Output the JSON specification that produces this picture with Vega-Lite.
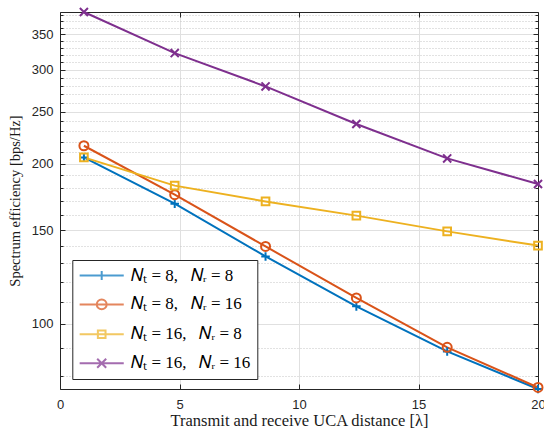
{
  "$schema": "https://vega.github.io/schema/vega-lite/v6.json",
  "width": 478,
  "height": 377,
  "autosize": "none",
  "padding": {"left": 60, "top": 12, "right": 6, "bottom": 45},
  "background": "white",
  "config": {
    "view": {"stroke": null},
    "font": "Liberation Sans",
    "axis": {
      "labelFont": "Liberation Sans",
      "labelFontSize": 13,
      "labelColor": "#262626",
      "titleFont": "Liberation Serif",
      "titleFontSize": 16.5,
      "titleFontWeight": "normal",
      "titleColor": "#1a1a1a",
      "domainColor": "#262626",
      "tickColor": "#262626",
      "domainWidth": 1,
      "tickWidth": 1,
      "gridColor": "#e0e0e0",
      "gridWidth": 1
    }
  },
  "data": {
    "values": [
      {"d": 1, "se": 205.4, "cfg": "Nt = 8,\u2002 Nr = 8"},
      {"d": 4.8, "se": 168.2, "cfg": "Nt = 8,\u2002 Nr = 8"},
      {"d": 8.6, "se": 133.9, "cfg": "Nt = 8,\u2002 Nr = 8"},
      {"d": 12.4, "se": 107.9, "cfg": "Nt = 8,\u2002 Nr = 8"},
      {"d": 16.2, "se": 88.8, "cfg": "Nt = 8,\u2002 Nr = 8"},
      {"d": 20, "se": 75.5, "cfg": "Nt = 8,\u2002 Nr = 8"},
      {"d": 1, "se": 216.0, "cfg": "Nt = 8,\u2002 Nr = 16"},
      {"d": 4.8, "se": 174.8, "cfg": "Nt = 8,\u2002 Nr = 16"},
      {"d": 8.6, "se": 139.8, "cfg": "Nt = 8,\u2002 Nr = 16"},
      {"d": 12.4, "se": 111.9, "cfg": "Nt = 8,\u2002 Nr = 16"},
      {"d": 16.2, "se": 90.4, "cfg": "Nt = 8,\u2002 Nr = 16"},
      {"d": 20, "se": 76.0, "cfg": "Nt = 8,\u2002 Nr = 16"},
      {"d": 1, "se": 205.4, "cfg": "Nt = 16,\u2002 Nr = 8"},
      {"d": 4.8, "se": 181.8, "cfg": "Nt = 16,\u2002 Nr = 8"},
      {"d": 8.6, "se": 169.8, "cfg": "Nt = 16,\u2002 Nr = 8"},
      {"d": 12.4, "se": 159.7, "cfg": "Nt = 16,\u2002 Nr = 8"},
      {"d": 16.2, "se": 149.2, "cfg": "Nt = 16,\u2002 Nr = 8"},
      {"d": 20, "se": 140.3, "cfg": "Nt = 16,\u2002 Nr = 8"},
      {"d": 1, "se": 385.0, "cfg": "Nt = 16,\u2002 Nr = 16"},
      {"d": 4.8, "se": 322.4, "cfg": "Nt = 16,\u2002 Nr = 16"},
      {"d": 8.6, "se": 279.1, "cfg": "Nt = 16,\u2002 Nr = 16"},
      {"d": 12.4, "se": 237.3, "cfg": "Nt = 16,\u2002 Nr = 16"},
      {"d": 16.2, "se": 204.5, "cfg": "Nt = 16,\u2002 Nr = 16"},
      {"d": 20, "se": 183.1, "cfg": "Nt = 16,\u2002 Nr = 16"}
    ]
  },
  "layer": [
    {
      "mark": {"type": "line", "strokeWidth": 2},
      "encoding": {
        "x": {
          "field": "d", "type": "quantitative",
          "scale": {"domain": [0, 20], "nice": false},
          "axis": {
            "orient": "bottom",
            "values": [0, 5, 10, 15, 20],
            "format": "d",
            "title": "Transmit and receive UCA distance [λ]",
            "titlePadding": 1,
            "tickSize": -5,
            "labelPadding": 14,
            "labelFlush": false,
            "labelOverlap": false,
            "grid": true,
            "gridColor": {"condition": {"test": "datum.value <= 0 || datum.value >= 20", "value": "transparent"}, "value": "#e0e0e0"}
          }
        },
        "y": {
          "field": "se", "type": "quantitative",
          "scale": {"type": "log", "domain": [75.5, 385], "nice": false},
          "axis": {
            "orient": "left",
            "values": [100, 150, 200, 250, 300, 350],
            "format": "d",
            "title": "Spectrum efficiency [bps/Hz]",
            "titleFontSize": 14.5,
            "titlePadding": 9,
            "tickSize": -5,
            "labelPadding": 12,
            "grid": true
          }
        },
        "color": {
          "field": "cfg", "type": "nominal",
          "scale": {
            "domain": ["Nt = 8,\u2002 Nr = 8", "Nt = 8,\u2002 Nr = 16", "Nt = 16,\u2002 Nr = 8", "Nt = 16,\u2002 Nr = 16"],
            "range": ["#0072BD", "#D95319", "#EDB120", "#7E2F8E"]
          },
          "legend": null
        }
      }
    },
    {
      "mark": {"type": "point", "filled": false, "strokeWidth": 2, "size": 81, "opacity": 1},
      "encoding": {
        "x": {
          "field": "d", "type": "quantitative",
          "scale": {"domain": [0, 20], "nice": false},
          "axis": {"orient": "top", "values": [0, 5, 10, 15, 20], "labels": false, "title": null, "tickSize": -5, "grid": false}
        },
        "y": {
          "field": "se", "type": "quantitative",
          "scale": {"type": "log", "domain": [75.5, 385], "nice": false},
          "axis": {"orient": "right", "values": [100, 150, 200, 250, 300, 350], "labels": false, "title": null, "tickSize": -5, "grid": false}
        },
        "color": {
          "field": "cfg", "type": "nominal",
          "scale": {
            "domain": ["Nt = 8,\u2002 Nr = 8", "Nt = 8,\u2002 Nr = 16", "Nt = 16,\u2002 Nr = 8", "Nt = 16,\u2002 Nr = 16"],
            "range": ["#0072BD", "#D95319", "#EDB120", "#7E2F8E"]
          },
          "legend": null
        },
        "shape": {
          "field": "cfg", "type": "nominal",
          "scale": {
            "domain": ["Nt = 8,\u2002 Nr = 8", "Nt = 8,\u2002 Nr = 16", "Nt = 16,\u2002 Nr = 8", "Nt = 16,\u2002 Nr = 16"],
            "range": [
              "M-0.95,0H0.95M0,-0.95V0.95",
              "M1,0A1,1,0,1,1,-1,0A1,1,0,1,1,1,0Z",
              "M-0.85,-0.85H0.85V0.85H-0.85Z",
              "M-0.9,-0.9L0.9,0.9M-0.9,0.9L0.9,-0.9"
            ]
          },
          "legend": null
        }
      }
    },
    {
      "transform": [{"filter": "false"}],
      "mark": {"type": "point", "filled": false, "strokeWidth": 2},
      "encoding": {
        "x": {"field": "d", "type": "quantitative", "scale": {"domain": [0, 20], "nice": false}, "axis": null},
        "y": {
          "field": "se", "type": "quantitative",
          "scale": {"type": "log", "domain": [75.5, 385], "nice": false},
          "axis": {
            "orient": "left",
            "values": [80, 90, 110, 120, 130, 140, 160, 170, 180, 190, 210, 220, 230, 240, 260, 270, 280, 290, 310, 320, 330, 340, 360, 370, 380],
            "labels": false, "title": null, "domain": false,
            "tickSize": -3,
            "grid": true, "gridDash": [1, 2], "gridColor": "#c4c4c4"
          }
        },
        "shape": {
          "field": "cfg", "type": "nominal",
          "scale": {
            "domain": ["Nt = 8,\u2002 Nr = 8", "Nt = 8,\u2002 Nr = 16", "Nt = 16,\u2002 Nr = 8", "Nt = 16,\u2002 Nr = 16"],
            "range": [
              "M-4.9,0H4.9M0,-1V1",
              "M-4.9,0H4.9M1.1,0A1.1,1.1,0,1,1,-1.1,0A1.1,1.1,0,1,1,1.1,0Z",
              "M-4.9,0H4.9M-0.85,-0.85H0.85V0.85H-0.85Z",
              "M-4.9,0H4.9M-1,-1L1,1M-1,1L1,-1"
            ]
          },
          "legend": {
            "title": null, "orient": "none", "legendX": 12.3, "legendY": 248,
            "symbolSize": 81, "symbolStrokeWidth": 2, "symbolOffset": 13.9, "symbolFillColor": "transparent",
            "labelOffset": 21, "padding": 7, "rowPadding": 10.9,
            "labelFont": "Liberation Serif", "labelFontSize": 17, "labelColor": "#000000", "labelLimit": 0,
            "strokeColor": "#262626", "fillColor": "white",
            "labelExpr": "replace(replace(datum.label, 'Nt', '𝑁ₜ'), 'Nr', '𝑁ᵣ')",
            "encode": {"symbols": {"update": {"strokeWidth": {"value": 2}}}}
          }
        },
        "stroke": {
          "field": "cfg", "type": "nominal",
          "scale": {
            "domain": ["Nt = 8,\u2002 Nr = 8", "Nt = 8,\u2002 Nr = 16", "Nt = 16,\u2002 Nr = 8", "Nt = 16,\u2002 Nr = 16"],
            "range": ["#0072BD", "#D95319", "#EDB120", "#7E2F8E"]
          },
          "legend": {
            "title": null, "orient": "none", "legendX": 12.3, "legendY": 248,
            "symbolSize": 81, "symbolStrokeWidth": 2, "symbolOffset": 13.9, "symbolFillColor": "transparent",
            "labelOffset": 21, "padding": 7, "rowPadding": 10.9,
            "labelFont": "Liberation Serif", "labelFontSize": 17, "labelColor": "#000000", "labelLimit": 0,
            "strokeColor": "#262626", "fillColor": "white",
            "labelExpr": "replace(replace(datum.label, 'Nt', '𝑁ₜ'), 'Nr', '𝑁ᵣ')",
            "encode": {"symbols": {"update": {"strokeWidth": {"value": 2}}}}
          }
        }
      }
    },
    {
      "transform": [{"filter": "false"}],
      "mark": {"type": "point", "filled": false},
      "encoding": {
        "x": {"field": "d", "type": "quantitative", "scale": {"domain": [0, 20], "nice": false}, "axis": null},
        "y": {
          "field": "se", "type": "quantitative",
          "scale": {"type": "log", "domain": [75.5, 385], "nice": false},
          "axis": {
            "orient": "right",
            "values": [80, 90, 110, 120, 130, 140, 160, 170, 180, 190, 210, 220, 230, 240, 260, 270, 280, 290, 310, 320, 330, 340, 360, 370, 380],
            "labels": false, "title": null, "domain": false, "grid": false,
            "tickSize": -3
          }
        }
      }
    }
  ],
  "resolve": {
    "axis": {"x": "independent", "y": "independent"},
    "scale": {"shape": "independent", "stroke": "independent"}
  }
}
